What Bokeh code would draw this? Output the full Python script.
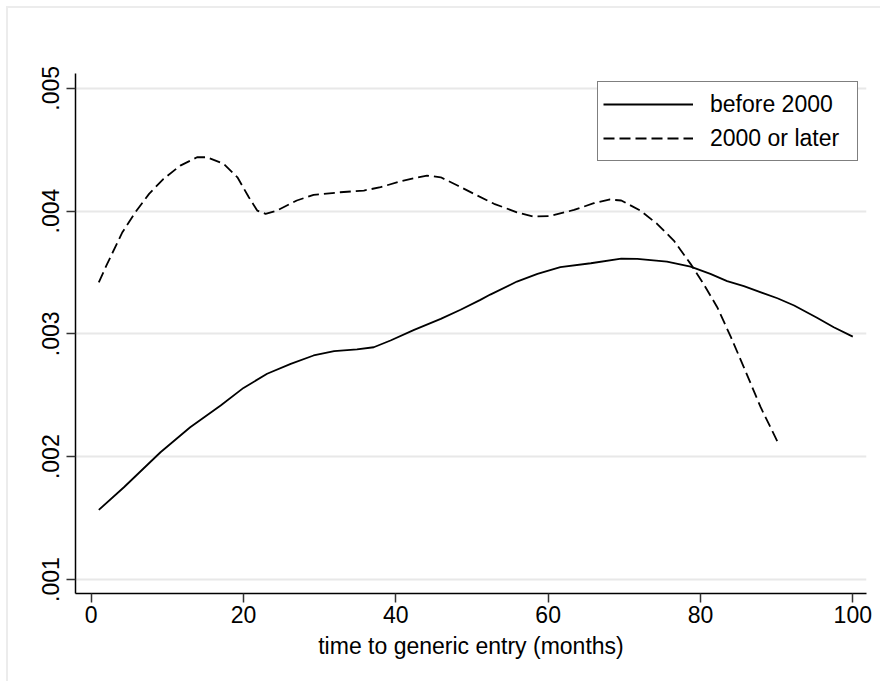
from bokeh.plotting import figure
from bokeh.models import Legend, LegendItem, FixedTicker, Range1d
from bokeh.embed import file_html
from bokeh.resources import INLINE

# ---- data ----
before_x = [1, 4.3, 9.1, 13, 17, 20, 23.1, 26.2, 29.2, 31.9, 34.9, 37.1, 39.3, 42.4,
            45.9, 48.5, 51.1, 52.4, 55.9, 58.6, 61.6, 65.6, 69.6, 71.7, 75.6, 78.7,
            81.3, 83.5, 85.7, 90.1, 92.3, 95.3, 97.5, 100]
before_y = [0.001567, 0.001751, 0.002036, 0.00224, 0.002417, 0.00256, 0.002675, 0.002756,
            0.002824, 0.002859, 0.002873, 0.002891, 0.002946, 0.003033, 0.003122, 0.003196,
            0.003277, 0.00332, 0.003426, 0.003489, 0.003543, 0.003575, 0.003613, 0.003611,
            0.003589, 0.003548, 0.003489, 0.003429, 0.003388, 0.00329, 0.003231, 0.003131,
            0.003054, 0.002978]

later_x = [1, 2.1, 4.1, 5.8, 7.6, 9.5, 11.7, 13.9, 15.2, 17.4, 19.2, 20.7, 21.8, 22.9,
           24.4, 27.0, 29.2, 32.7, 35.8, 38.0, 40.6, 44.1, 45.9, 48.1, 50.7, 52.9, 55.9,
           58.1, 60.3, 63.4, 66.0, 68.0, 69.6, 72.1, 74.3, 76.5, 78.7, 80.4, 82.2, 84.0,
           85.7, 87.9, 90.1]
later_y = [0.00342, 0.00357, 0.003828, 0.00399, 0.00414, 0.004262, 0.00437, 0.004438,
           0.004438, 0.004384, 0.004275, 0.004112, 0.004004, 0.003977, 0.004004, 0.004086,
           0.004132, 0.004153, 0.004167, 0.004194, 0.004243, 0.004289, 0.004275, 0.004208,
           0.004126, 0.004059, 0.00399, 0.003955, 0.00396, 0.004009, 0.004064, 0.004094,
           0.004086, 0.004004, 0.003896, 0.00376, 0.00357, 0.003407, 0.003217, 0.002973,
           0.002728, 0.002403, 0.002124]

series_labels = ["before 2000", "2000 or later"]
x_ticks = [0, 20, 40, 60, 80, 100]
y_ticks = [0.001, 0.002, 0.003, 0.004, 0.005]
y_tick_labels = [".001", ".002", ".003", ".004", ".005"]
x_title = "time to generic entry (months)"

FONT = "Liberation Sans"
FS = "23px"

p = figure(width=872, height=673, output_backend="svg", toolbar_location=None,
           x_range=Range1d(-2.06, 101.8), y_range=Range1d(0.000886, 0.00512),
           min_border_left=67, min_border_top=65, min_border_right=14, min_border_bottom=88,
           background_fill_color="white", border_fill_color="white")
p.outline_line_color = None
p.styles = {"outline": "2px solid #ececec", "margin-left": "8px", "margin-top": "8px"}

r1 = p.line(before_x, before_y, line_color="black", line_width=1.8)
r2 = p.line(later_x, later_y, line_color="black", line_width=1.8, line_dash="11 5")

# grid
p.xgrid.grid_line_color = None
p.ygrid.grid_line_color = "#e8e8e8"
p.ygrid.grid_line_width = 2
p.ygrid.ticker = FixedTicker(ticks=y_ticks)

# axes
for ax in (p.xaxis[0], p.yaxis[0]):
    ax.axis_line_color = "black"
    ax.axis_line_width = 1.5
    ax.major_tick_line_color = "#333333"
    ax.major_tick_line_width = 1.5
    ax.major_tick_in = 0
    ax.major_tick_out = 9
    ax.minor_tick_line_color = None
    ax.major_label_text_font = FONT
    ax.major_label_text_font_size = FS
    ax.major_label_text_color = "black"

p.xaxis.ticker = FixedTicker(ticks=x_ticks)
p.xaxis.major_label_standoff = 3
p.xaxis.axis_label = x_title
p.xaxis.axis_label_text_font = FONT
p.xaxis.axis_label_text_font_size = FS
p.xaxis.axis_label_text_font_style = "normal"
p.xaxis.axis_label_text_color = "black"
p.xaxis.axis_label_standoff = 7

p.yaxis.ticker = FixedTicker(ticks=y_ticks)
p.yaxis.major_label_overrides = dict(zip(y_ticks, y_tick_labels))
p.yaxis.major_label_orientation = "vertical"
p.yaxis.major_label_standoff = 7

legend = Legend(items=[LegendItem(label=series_labels[0], renderers=[r1]),
                       LegendItem(label=series_labels[1], renderers=[r2])],
                location="top_right", margin=8, padding=5, spacing=0,
                glyph_width=90, glyph_height=34, label_height=34, label_width=142,
                label_standoff=17,
                label_text_font=FONT, label_text_font_size=FS, label_text_color="black",
                border_line_color="black", border_line_width=1.2,
                background_fill_color="white", background_fill_alpha=1.0)
p.add_layout(legend)

open("out.html", "w").write(file_html(p, INLINE))
